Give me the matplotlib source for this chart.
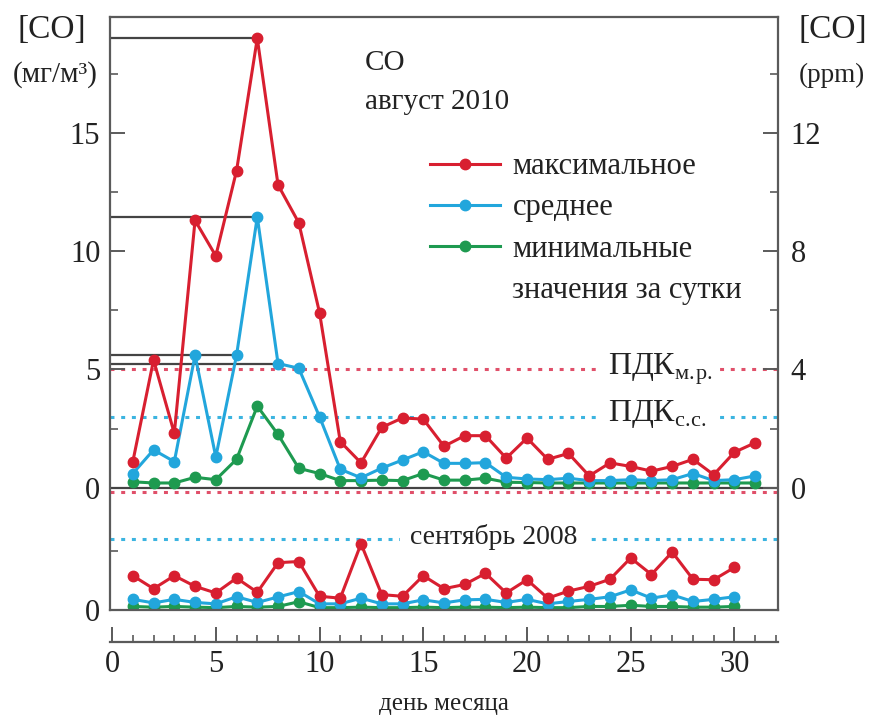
import matplotlib
matplotlib.use("Agg")
import matplotlib.pyplot as plt
from matplotlib.lines import Line2D

plt.rcParams['font.family'] = ['Liberation Serif', 'DejaVu Serif']
plt.rcParams['mathtext.fontset'] = 'custom'
plt.rcParams['mathtext.rm'] = 'Liberation Serif'

# август 2010, мг/м3
days_aug = [1, 2, 3, 4, 5, 6, 7, 8, 9, 10, 11, 12, 13, 14, 15, 16,
            17, 18, 19, 20, 21, 22, 23, 24, 25, 26, 27, 28, 29, 30, 31]
aug_max = [1.1, 5.4, 2.3, 11.3, 9.8, 13.4, 19.0, 12.8, 11.2, 7.4, 1.95, 1.05, 2.55, 2.95, 2.9, 1.75,
           2.2, 2.2, 1.25, 2.1, 1.2, 1.45, 0.5, 1.05, 0.9, 0.7, 0.9, 1.2, 0.55, 1.5, 1.9]
aug_mean = [0.6, 1.6, 1.1, 5.6, 1.3, 5.6, 11.45, 5.25, 5.05, 3.0, 0.78, 0.42, 0.83, 1.17, 1.52, 1.03,
            1.03, 1.06, 0.44, 0.37, 0.34, 0.4, 0.3, 0.3, 0.34, 0.3, 0.34, 0.6, 0.3, 0.34, 0.5]
aug_min = [0.25, 0.2, 0.2, 0.44, 0.34, 1.2, 3.45, 2.25, 0.82, 0.6, 0.3, 0.3, 0.32, 0.3, 0.6, 0.32,
           0.32, 0.4, 0.23, 0.22, 0.2, 0.2, 0.2, 0.2, 0.2, 0.2, 0.2, 0.2, 0.2, 0.2, 0.2]

# сентябрь 2008, мг/м3
days_sep = [1, 2, 3, 4, 5, 6, 7, 8, 9, 10, 11, 12, 13, 14, 15,
            16, 17, 18, 19, 20, 21, 22, 23, 24, 25, 26, 27, 28, 29, 30]
sep_max = [1.45, 0.9, 1.45, 1.0, 0.72, 1.35, 0.75, 2.0, 2.05, 0.58, 0.5, 2.8, 0.65, 0.58, 1.45,
           0.9, 1.08, 1.55, 0.72, 1.28, 0.5, 0.8, 1.0, 1.3, 2.2, 1.5, 2.45, 1.3, 1.28, 1.8]
sep_mean = [0.45, 0.3, 0.45, 0.32, 0.26, 0.56, 0.32, 0.55, 0.78, 0.26, 0.26, 0.5, 0.26, 0.26, 0.43,
            0.3, 0.43, 0.45, 0.32, 0.45, 0.26, 0.36, 0.45, 0.56, 0.85, 0.5, 0.64, 0.36, 0.45, 0.56]
sep_min = [0.15, 0.12, 0.15, 0.12, 0.1, 0.15, 0.12, 0.15, 0.35, 0.1, 0.1, 0.12, 0.1, 0.1, 0.12,
           0.1, 0.12, 0.12, 0.1, 0.12, 0.1, 0.1, 0.15, 0.15, 0.2, 0.15, 0.15, 0.12, 0.12, 0.15]

pdk_mr = 5.0
pdk_ss = 3.0
mg_per_ppm = 1.25
labels = ['максимальное', 'среднее', 'минимальные', 'значения за сутки']

# lower panel (сентябрь 2008) is drawn shifted down on the same scale
lower0 = -5.17
ytop = 19.9
xlo, xhi = -0.1, 32.1

red = '#d81f30'
cyan = '#22a6dc'
green = '#1e9a50'
red_dot = '#e0506a'
cyan_dot = '#3bb4e0'
frame = '#5a5a5a'
txt = '#222222'

fig = plt.figure(figsize=(8.69, 7.2), dpi=100)
ax = fig.add_axes([110 / 869, 1 - 610 / 720, 668 / 869, 593 / 720])
ax.set_xlim(xlo, xhi)
ax.set_ylim(lower0, ytop)

dot = (0, (1.3, 2.2))
# ПДК lines, upper and lower
for base in [0, lower0]:
    ax.axhline(base + pdk_mr, color=red_dot, lw=2.2, ls=dot, zorder=1)
    ax.axhline(base + pdk_ss, color=cyan_dot, lw=2.2, ls=dot, zorder=1)
ax.axhline(0, color='#444444', lw=1.6, zorder=2)

# black guide lines to the peaks
for day, series in [(7, aug_max), (7, aug_mean), (6, aug_mean), (8, aug_mean)]:
    ax.hlines(series[day - 1], xlo, day, color='#444444', lw=1.6, zorder=2)

for vals, col in [(aug_min, green), (aug_mean, cyan), (aug_max, red)]:
    ax.plot(days_aug, vals, color=col, lw=2.2, marker='o', ms=7.5, zorder=4)
for vals, col in [(sep_min, green), (sep_mean, cyan), (sep_max, red)]:
    ax.plot(days_sep, [v + lower0 for v in vals], color=col, lw=2.2, marker='o', ms=7.5, zorder=4)

# axes look
for s in ['left', 'right', 'top']:
    ax.spines[s].set_color(frame)
    ax.spines[s].set_linewidth(1.6)
ax.spines['bottom'].set_position(('outward', 23))
ax.spines['bottom'].set_color(frame)
ax.spines['bottom'].set_linewidth(1.6)
ax.axhline(lower0, color=frame, lw=1.6, clip_on=False, zorder=5)

ax.set_xticks([0, 5, 10, 15, 20, 25, 30])
ax.set_xticks(range(0, 33), minor=True)
ax.tick_params(axis='x', which='major', direction='in', length=11, width=1.4, color=frame,
               labelsize=22, pad=6, labelcolor=txt)
ax.tick_params(axis='x', which='minor', direction='in', length=5, width=1.2, color=frame)
ax.set_xlabel('день месяца', fontsize=18, color=txt, labelpad=10)

ax.set_yticks([lower0, 0, 5, 10, 15], ['0', '0', '5', '10', '15'])
ax.set_yticks([lower0 + 2.5, 2.5, 7.5, 12.5, 17.5], minor=True)
ax.tick_params(axis='y', which='major', direction='in', length=11, width=1.4, color=frame,
               labelsize=22, pad=7, labelcolor=txt)
ax.tick_params(axis='y', which='minor', direction='in', length=6, width=1.2, color=frame)

ax2 = ax.twinx()
ax2.set_ylim(lower0 / mg_per_ppm, ytop / mg_per_ppm)
for s in ax2.spines.values():
    s.set_visible(False)
ax2.set_yticks([0, 4, 8, 12])
ax2.set_yticks([2, 6, 10, 14], minor=True)
ax2.tick_params(axis='y', which='major', direction='in', length=11, width=1.4, color=frame,
                labelsize=22, pad=9, labelcolor=txt)
ax2.tick_params(axis='y', which='minor', direction='in', length=6, width=1.2, color=frame)

# texts
ax.text(12.2, 17.95, 'CO', fontsize=21, color=txt, va='center')
ax.text(12.2, 16.3, 'август 2010', fontsize=21, color=txt, va='center')
ax.text(23.9, 5.0, r'ПДК$_{\mathregular{м.\!р.}}$', fontsize=23, color=txt, va='center',
        bbox=dict(facecolor='white', edgecolor='none', pad=5), zorder=3)
ax.text(23.9, 3.1, r'ПДК$_{\mathregular{с.\!с.}}$', fontsize=23, color=txt, va='center',
        bbox=dict(facecolor='white', edgecolor='none', pad=5), zorder=3)
ax.text(18.4, lower0 + 3.1, 'сентябрь 2008', fontsize=20, color=txt, va='center', ha='center',
        bbox=dict(facecolor='white', edgecolor='none', pad=7), zorder=3)

handles = [Line2D([], [], color=c, lw=2.2, marker='o', ms=7.5) for c in [red, cyan, green]]
handles.append(Line2D([], [], color='none'))
ax.legend(handles, labels, loc='upper left', bbox_to_anchor=(0.479, 0.772), frameon=False,
          fontsize=22, handlelength=2.3, handletextpad=0.4, labelspacing=0.4,
          borderpad=0, borderaxespad=0, numpoints=1, labelcolor=txt)

fig.text(52 / 869, 1 - 30 / 720, '[CO]', fontsize=24, color=txt, ha='center', va='center')
fig.text(55 / 869, 1 - 75 / 720, '(мг/м³)', fontsize=21, color=txt, ha='center', va='center')
fig.text(833 / 869, 1 - 30 / 720, '[CO]', fontsize=24, color=txt, ha='center', va='center')
fig.text(832 / 869, 1 - 75 / 720, '(ppm)', fontsize=19.5, color=txt, ha='center', va='center')

fig.savefig('out.png', dpi=100)
